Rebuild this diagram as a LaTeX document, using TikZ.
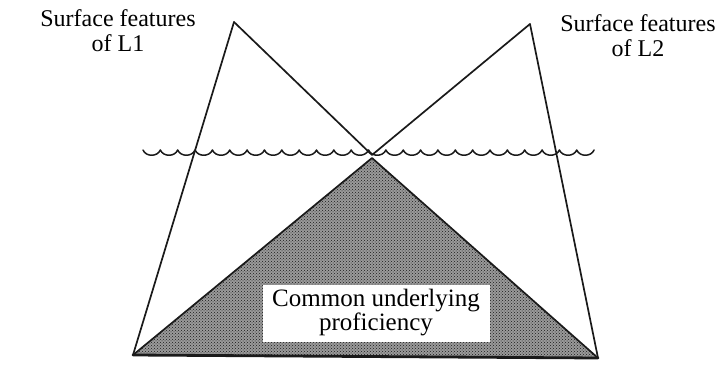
\documentclass[tikz,border=0pt]{standalone}
\usepackage{fontspec}
\setmainfont{Liberation Serif}
\usepackage{tikz}
\usetikzlibrary{patterns,positioning}
\definecolor{inkblack}{HTML}{1A1A1A}
\definecolor{dotgray}{HTML}{9A9A9A}

\begin{document}
\begin{tikzpicture}[x=1pt, y=-1pt, line join=round, line cap=round]
  \useasboundingbox (0,0) rectangle (728,374);
  \tikzset{
    edge/.style={draw=inkblack, line width=1.7pt},
    wave/.style={draw=inkblack, line width=1.5pt},
    lbl/.style={align=center, inner sep=0pt, font=\fontsize{24}{25}\selectfont},
  }

  \coordinate (peakA) at (234,22);
  \coordinate (peakB) at (530,24);
  \coordinate (waist) at (372,155);
  \coordinate (apex) at (372,158);
  \coordinate (baseA) at (133,355);
  \coordinate (baseB) at (598,358);

  \fill[preaction={fill=dotgray}, pattern=crosshatch dots, pattern color=inkblack] (apex) -- (baseB) -- (baseA) -- cycle;

  \draw[edge] (peakA) -- (waist) -- (peakB);
  \draw[edge] (peakA) -- (baseA);
  \draw[edge] (peakB) -- (baseB);
  \draw[edge] (baseA) -- (apex) -- (baseB);
  \draw[edge, line width=2.8pt] (baseA) -- (baseB);

  \draw[wave] (143,150) foreach \k in {0,...,25} {
    .. controls ({146+17.35*\k},157) and ({157.35+17.35*\k},157) .. ({160.35+17.35*\k},150)
  };

  \node[lbl] (surfA) at (118,31) {Surface features\\of L1};
  \node[lbl] (surfB) at (638,36) {Surface features\\of L2};

  \node[fill=white, minimum width=227pt, minimum height=57pt, inner sep=0pt] (cupbox) at (376,313) {};
  \node[lbl, font=\fontsize{25}{24}\selectfont] (cup) at (cupbox) {Common underlying\\proficiency};
\end{tikzpicture}
\end{document}
